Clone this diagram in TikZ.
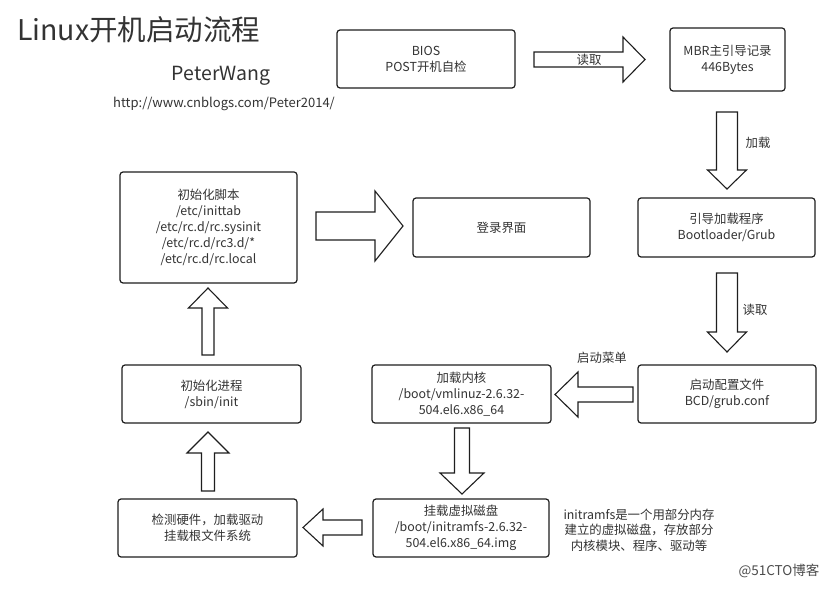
\documentclass[tikz,border=0pt]{standalone}
\usepackage{fontspec}
\setmainfont{Noto Sans CJK SC}
\usetikzlibrary{calc}
\definecolor{ink}{HTML}{1E1E1E}
\definecolor{txt}{HTML}{333333}
\newcommand{\blockarrow}[5]{%
  \coordinate (hb) at ($(#2)!#5!(#1)$);
  \draw[barrow] ($(#1)!#3!90:(#2)$) -- ($(hb)!#3!90:(#2)$) -- ($(hb)!#4!90:(#2)$) -- (#2)
    -- ($(hb)!#4!-90:(#2)$) -- ($(hb)!#3!-90:(#2)$) -- ($(#1)!#3!-90:(#2)$) -- cycle;
}
\begin{document}
\begin{tikzpicture}[x=1pt,y=-1pt,
  box/.style={draw=ink, line width=1.2pt, rounded corners=3pt, fill=white, align=center,
    text=txt, font=\fontsize{12.4}{16}\selectfont, inner sep=0pt},
  barrow/.style={draw=ink, line width=1.1pt, fill=white, line join=miter},
  lbl/.style={text=txt, font=\fontsize{12.4}{15.5}\selectfont, inner sep=0pt, align=center}]
\useasboundingbox (0,0) rectangle (838,593);
\fill[white] (0,0) rectangle (838,593);

% title
\node[anchor=west, text=txt, font=\fontsize{28.5}{32}\selectfont, inner sep=0pt] (title) at (17,30) {Linux开机启动流程};
\node[text=txt, font=\fontsize{19.5}{22}\selectfont, inner sep=0pt] (author) at (221,76) {PeterWang};
\node[text=txt, font=\fontsize{13}{15}\selectfont, inner sep=0pt] (url) at (224,104) {http://www.cnblogs.com/Peter2014/};

% boxes
\node[box, minimum width=178, minimum height=58] (bios) at (426,59) {BIOS\\POST开机自检};
\node[box, minimum width=115, minimum height=63] (mbr) at (727.5,59.5) {MBR主引导记录\\446Bytes};
\node[box, minimum width=177, minimum height=59] (boot) at (726.5,227.5) {引导加载程序\\Bootloader/Grub};
\node[box, minimum width=178, minimum height=58] (cfg) at (727,394) {启动配置文件\\BCD/grub.conf};
\node[box, minimum width=179, minimum height=58] (kernel) at (461.5,394) {加载内核\\/boot/vmlinuz-2.6.32-\\504.el6.x86\_64};
\node[box, minimum width=179, minimum height=58] (initproc) at (211.5,394) {初始化进程\\/sbin/init};
\node[box, minimum width=177, minimum height=111] (script) at (208.5,227.5) {初始化脚本\\/etc/inittab\\/etc/rc.d/rc.sysinit\\/etc/rc.d/rc3.d/*\\/etc/rc.d/rc.local};
\node[box, minimum width=177, minimum height=59] (login) at (501.5,227.5) {登录界面};
\node[box, minimum width=176, minimum height=58] (mount) at (461,528) {挂载虚拟磁盘\\/boot/initramfs-2.6.32-\\504.el6.x86\_64.img};
\node[box, minimum width=179, minimum height=58] (hw) at (207.5,528) {检测硬件，加载驱动\\挂载根文件系统};

% arrow end points
\coordinate (a1s) at (534,59.5);   \coordinate (a1e) at (645,59.5);
\coordinate (a2s) at (727,112);    \coordinate (a2e) at (727,189);
\coordinate (a3s) at (727,273);    \coordinate (a3e) at (727,352);
\coordinate (a4s) at (633,394.5);  \coordinate (a4e) at (555,394.5);
\coordinate (a5s) at (462,428);    \coordinate (a5e) at (462,494);
\coordinate (a6s) at (362,527.5);  \coordinate (a6e) at (303,527.5);
\coordinate (a7s) at (208,491);    \coordinate (a7e) at (208,432);
\coordinate (a8s) at (208,355);    \coordinate (a8e) at (208,288);
\coordinate (a9s) at (316,226);    \coordinate (a9e) at (403,226);

\blockarrow{a1s}{a1e}{7.5pt}{22.5pt}{22pt}
\blockarrow{a2s}{a2e}{10.5pt}{19.5pt}{19pt}
\blockarrow{a3s}{a3e}{10.5pt}{19.5pt}{20pt}
\blockarrow{a4s}{a4e}{7.5pt}{22.5pt}{23pt}
\blockarrow{a5s}{a5e}{7.5pt}{22pt}{21pt}
\blockarrow{a6s}{a6e}{7.5pt}{18.5pt}{20pt}
\blockarrow{a7s}{a7e}{6.5pt}{21pt}{21pt}
\blockarrow{a8s}{a8e}{6pt}{19.5pt}{20pt}
\blockarrow{a9s}{a9e}{14pt}{35pt}{28pt}

% arrow labels
\node[lbl] (l1) at (589,60) {读取};
\node[lbl] (l2) at (758,143) {加载};
\node[lbl] (l3) at (755,310) {读取};
\node[lbl] (l4) at (602,358) {启动菜单};

% note
\node[lbl] (note) at (639,530) {initramfs是一个用部分内存\\建立的虚拟磁盘，存放部分\\内核模块、程序、驱动等};
\node[text=black!70, font=\fontsize{13.5}{15}\selectfont, inner sep=0pt] (wm) at (779,571) {@51CTO博客};
\end{tikzpicture}
\end{document}
